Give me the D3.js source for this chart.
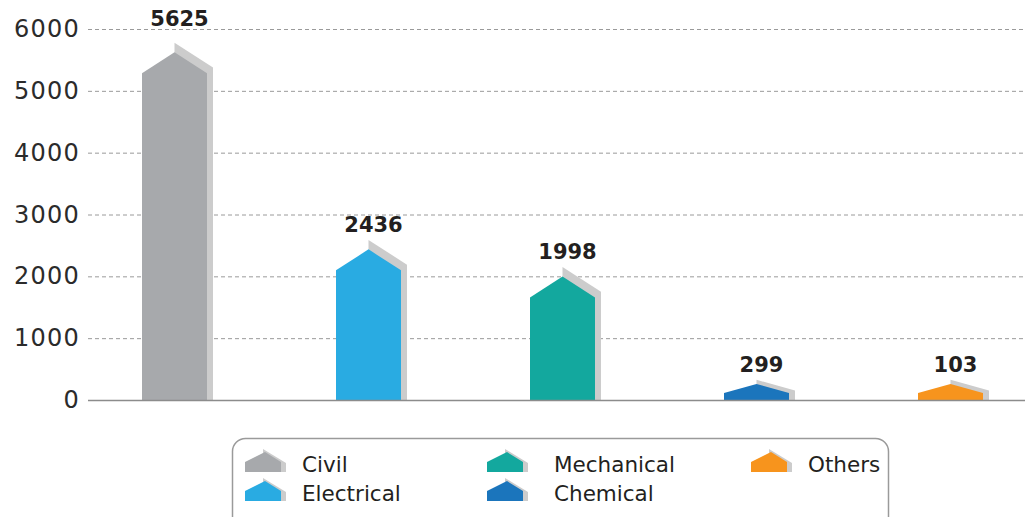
<!DOCTYPE html>
<html lang="en">
<head>
<meta charset="utf-8">
<title>Branches</title>
<script src="https://d3js.org/d3.v7.min.js"></script>
<style>
  body { margin: 0; background: #fff; }
  text { font-family: "DejaVu Sans", sans-serif; }
</style>
</head>
<body>
<script>
  // data
  var branches = ["Civil", "Electrical", "Mechanical", "Chemical", "Others"];
  var counts = [5625, 2436, 1998, 299, 103];
  var colors = ["#a7a9ac", "#29abe2", "#13a89e", "#1b75bc", "#f7941d"];
  var yTicks = [0, 1000, 2000, 3000, 4000, 5000, 6000];

  var width = 1025, height = 517;
  var svg = d3.select("body").append("svg")
      .attr("width", width)
      .attr("height", height);

  var x = d3.scalePoint().domain(branches).range([174.5, 950.5]);
  var y = d3.scaleLinear().domain([0, 6000]).range([400, 29]);
  var barW = 65, shadowGrey = "#cccccc";

  // grid
  svg.append("g").selectAll("line")
    .data(yTicks.filter(function(d){ return d > 0; }))
    .enter().append("line")
    .attr("x1", 88).attr("x2", width)
    .attr("y1", function(d){ return y(d) + 0.5; })
    .attr("y2", function(d){ return y(d) + 0.5; })
    .attr("stroke", "#9a9a9a")
    .attr("stroke-dasharray", "4,3");

  svg.append("g").selectAll("text")
    .data(yTicks)
    .enter().append("text")
    .attr("x", 80)
    .attr("y", function(d){ return y(d) + 8; })
    .attr("text-anchor", "end")
    .attr("font-size", 24)
    .attr("letter-spacing", 1.2)
    .attr("fill", "#2b2b2b")
    .text(function(d){ return d; });

  // house-shaped bars
  function shape(d, i) {
    var cx = x(branches[i]);
    var sh = Math.min(y(d) + 21, y(0) - 7);
    var cap = Math.min(21, (y(0) - sh) * 1.3);
    return { cx: cx, sh: sh, peak: sh - cap, cap: cap };
  }

  var bars = svg.append("g").selectAll("g")
    .data(counts).enter().append("g");

  bars.append("path")
    .attr("fill", shadowGrey)
    .attr("d", function(d, i) {
      var s = shape(d, i), off = s.cap * 0.45;
      return "M" + s.cx + "," + (s.peak - off) +
        "L" + (s.cx + barW / 2 + 6) + "," + (s.sh - off * 0.6) +
        "L" + (s.cx + barW / 2 + 6) + "," + y(0) +
        "L" + s.cx + "," + y(0) + "Z";
    });

  bars.append("path")
    .attr("fill", function(d, i){ return colors[i]; })
    .attr("d", function(d, i) {
      var s = shape(d, i);
      return "M" + (s.cx - barW / 2) + "," + y(0) +
        "L" + (s.cx - barW / 2) + "," + s.sh +
        "L" + s.cx + "," + s.peak +
        "L" + (s.cx + barW / 2) + "," + s.sh +
        "L" + (s.cx + barW / 2) + "," + y(0) + "Z";
    });

  bars.append("text")
    .attr("x", function(d, i){ return x(branches[i]) + 5; })
    .attr("y", function(d, i){
      var s = shape(d, i);
      return i === 0 ? 26 : s.peak - s.cap * 0.45 - 8;
    })
    .attr("text-anchor", "middle")
    .attr("font-size", 21)
    .attr("font-weight", "bold")
    .attr("fill", "#231f20")
    .text(function(d){ return d; });

  // baseline
  svg.append("line")
    .attr("x1", 88).attr("x2", width)
    .attr("y1", y(0) + 0.5).attr("y2", y(0) + 0.5)
    .attr("stroke", "#8c8c8c")
    .attr("stroke-width", 1.5);

  // legend
  var legend = svg.append("g");
  legend.append("rect")
    .attr("x", 232.5).attr("y", 438.5)
    .attr("width", 656).attr("height", 100)
    .attr("rx", 13)
    .attr("fill", "none")
    .attr("stroke", "#9a9a9a")
    .attr("stroke-width", 1.5);

  var legX = [245, 245, 487, 487, 751];
  var legY = [472, 501, 472, 501, 472];
  var legTextX = [57, 57, 67, 67, 57];

  var items = legend.selectAll("g.item")
    .data(branches).enter().append("g")
    .attr("class", "item")
    .attr("transform", function(d, i){ return "translate(" + legX[i] + "," + legY[i] + ")"; });

  items.append("path")
    .attr("fill", shadowGrey)
    .attr("d", "M18,-23L41,-9L41,0L18,0Z");
  items.append("path")
    .attr("fill", function(d, i){ return colors[i]; })
    .attr("d", "M0,0L0,-10L20,-20L36,-10L36,0Z");
  items.append("text")
    .attr("x", function(d, i){ return legTextX[i]; })
    .attr("y", 0)
    .attr("font-size", 21.5)
    .attr("fill", "#231f20")
    .text(function(d){ return d; });
</script>
</body>
</html>
